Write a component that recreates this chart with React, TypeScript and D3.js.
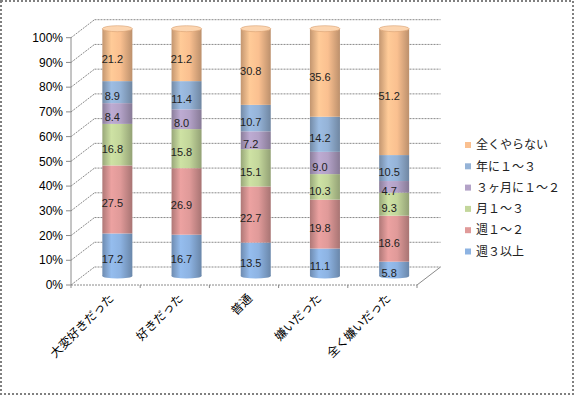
import * as d3 from 'd3';
import React, { useEffect } from 'react';

const categories = ['大変好きだった', '好きだった', '普通', '嫌いだった', '全く嫌いだった'];
const seriesNames = ['週３以上', '週１～２', '月１～３', '３ヶ月に１～２', '年に１～３', '全くやらない'];
const seriesColors = ['#8db3e2', '#e09a99', '#c3d69b', '#b3a2c7', '#95b3d7', '#fac090'];
const weekly3 = [17.2, 16.7, 13.5, 11.1, 5.8];
const weekly12 = [27.5, 26.9, 22.7, 19.8, 18.6];
const monthly13 = [16.8, 15.8, 15.1, 10.3, 9.3];
const quarterly12 = [8.4, 8.0, 7.2, 9.0, 4.7];
const yearly13 = [8.9, 11.4, 10.7, 14.2, 10.5];
const never = [21.2, 21.2, 30.8, 35.6, 51.2];
const yTicks = [0, 10, 20, 30, 40, 50, 60, 70, 80, 90, 100];

const seriesValues = [weekly3, weekly12, monthly13, quarterly12, yearly13, never];

const App = () => {
	useEffect(() => {
		document.body.style.margin = '0';
	}, []);

	const W = 574;
	const H = 395;
	// 3d depth offset of the back wall
	const dx = 23.5;
	const dy = -18;
	const x = d3.scaleBand().domain(categories).range([71, 417]).padding(0);
	const y = d3.scaleLinear().domain([0, 100]).range([285, 37.7]);
	const rx = 15;
	const ry = 2.5;
	const grid = '#8a8a8a';

	const stacked = d3.stack<number>()
		.keys(d3.range(seriesNames.length).map(String))
		(categories.map((_, ci) => {
			const row: any = {};
			seriesValues.forEach((s, si) => (row[String(si)] = s[ci]));
			return row;
		}) as any);

	const cx = (c: string) => (x(c) as number) + x.bandwidth() / 2 + dx / 2;
	const cy = (v: number) => y(v) + dy / 2;

	return (
		<svg width={W} height={H} style={{ display: 'block' }}>
			<defs>
				{seriesColors.map((c, i) => {
					const col = d3.color(c) as d3.RGBColor;
					return (
						<linearGradient key={i} id={`g${i}`} x1="0" x2="1" y1="0" y2="0">
							<stop offset="0%" stopColor={col.darker(0.7).toString()} />
							<stop offset="30%" stopColor={col.brighter(0.15).toString()} />
							<stop offset="60%" stopColor={c} />
							<stop offset="100%" stopColor={col.darker(0.8).toString()} />
						</linearGradient>
					);
				})}
			</defs>
			<rect x={1} y={1} width={W - 2} height={H - 2} fill="#fff" stroke="#808080" strokeWidth={2} strokeDasharray="2 2" />

			{/* walls and gridlines */}
			{yTicks.map((t) => (
				<g key={t} stroke={grid} strokeDasharray="2 1" fill="none">
					<line x1={71} y1={y(t)} x2={71 + dx} y2={y(t) + dy} />
					<line x1={71 + dx} y1={y(t) + dy} x2={417 + dx} y2={y(t) + dy} />
					<line x1={66} y1={y(t)} x2={71} y2={y(t)} strokeDasharray="none" />
				</g>
			))}
			<line x1={71} y1={y(0)} x2={71} y2={y(100)} stroke={grid} />
			<line x1={71} y1={y(0)} x2={417} y2={y(0)} stroke={grid} strokeDasharray="2 1" />
			<line x1={417} y1={y(0)} x2={417 + dx} y2={y(0) + dy} stroke={grid} />
			{categories.concat(['']).map((c, i) => {
				const xx = i < categories.length ? (x(c) as number) : 417;
				return <line key={i} x1={xx} y1={y(0)} x2={xx} y2={y(0) + 3} stroke={grid} />;
			})}

			{/* y labels */}
			{yTicks.map((t) => (
				<text key={t} x={63} y={y(t)} dy="0.35em" textAnchor="end" fontFamily="'Liberation Sans', Arial, sans-serif" fontSize={12} fill="#000">
					{t}%
				</text>
			))}

			{/* cylinders */}
			{categories.map((c, ci) => {
				const x0 = cx(c);
				return (
					<g key={c}>
						<ellipse cx={x0} cy={cy(0)} rx={rx} ry={ry} fill="url(#g0)" />
						{stacked.map((s, si) => {
							const [a, b] = s[ci];
							return (
								<rect key={si} x={x0 - rx} y={cy(b)} width={rx * 2} height={cy(a) - cy(b)} fill={`url(#g${si})`} />
							);
						})}
						<ellipse cx={x0} cy={cy(100)} rx={rx} ry={ry + 0.5} fill="#fcd5b0" stroke="#d9a070" strokeWidth={0.6} />
						{stacked.map((s, si) => {
							const [a, b] = s[ci];
							return (
								<text key={'t' + si} x={x0 - 5} y={y((a + b) / 2) - 5} dy="0.35em" textAnchor="middle" fontFamily="'Liberation Sans', Arial, sans-serif" fontSize={11} fill="#222">
									{seriesValues[si][ci].toFixed(1)}
								</text>
							);
						})}
					</g>
				);
			})}

			{/* category labels */}
			{categories.map((c) => (
				<text
					key={c}
					transform={`translate(${(x(c) as number) + x.bandwidth() / 2 + 6},${296}) rotate(-45)`}
					textAnchor="end"
					dy="0.35em"
					fontFamily="'Noto Sans CJK JP', sans-serif"
					fontSize={12}
					fill="#000"
				>
					{c}
				</text>
			))}

			{/* legend */}
			{seriesNames.slice().reverse().map((n, i) => {
				const si = seriesNames.length - 1 - i;
				const ly = 145 + i * 21.3;
				return (
					<g key={n}>
						<rect x={465} y={ly - 3} width={6} height={6} fill={seriesColors[si]} />
						<text x={476} y={ly} dy="0.35em" fontFamily="'Noto Sans CJK JP', sans-serif" fontSize={12} fill="#222">
							{n}
						</text>
					</g>
				);
			})}
		</svg>
	);
};

export default App;
